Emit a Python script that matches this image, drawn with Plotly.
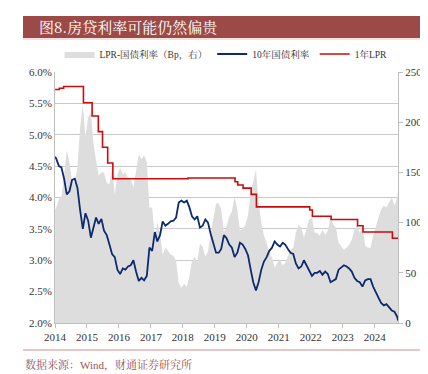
import plotly.graph_objects as go

# ---------------- data ----------------
months = ["2014-01-02"] + [f"{y}-{m:02d}-15" for y in range(2014, 2025) for m in range(1, 13)
                           if not (y == 2024 and m > 9)] + ["2024-09-24"]

cgb10y = [4.65,
          4.62, 4.50, 4.48, 4.30, 4.05, 4.10, 4.28, 4.30, 4.15, 3.80, 3.50, 3.75,
          3.63, 3.36, 3.50, 3.68, 3.58, 3.66, 3.47, 3.40, 3.25, 3.10, 3.05, 2.85,
          2.78, 2.87, 2.85, 2.90, 2.92, 3.00, 2.82, 2.67, 2.72, 2.68, 2.75, 3.20,
          3.15, 3.45, 3.30, 3.40, 3.62, 3.55, 3.58, 3.62, 3.63, 3.68, 3.92, 3.95,
          3.92, 3.95, 3.85, 3.70, 3.65, 3.70, 3.52, 3.55, 3.65, 3.60, 3.42, 3.25,
          3.12, 3.12, 3.18, 3.40, 3.35, 3.25, 3.20, 3.05, 3.12, 3.28, 3.25, 3.18,
          3.08, 2.85, 2.65, 2.52, 2.65, 2.85, 2.98, 3.05, 3.15, 3.20, 3.30, 3.25,
          3.22, 3.28, 3.25, 3.18, 3.12, 3.10, 2.95, 2.87, 2.90, 3.00, 2.92, 2.82,
          2.75, 2.80, 2.80, 2.83, 2.77, 2.82, 2.78, 2.65, 2.67, 2.70, 2.85, 2.88,
          2.92, 2.90, 2.87, 2.82, 2.72, 2.67, 2.65, 2.58, 2.68, 2.70, 2.70, 2.58,
          2.48, 2.40, 2.32, 2.28, 2.30, 2.25, 2.20, 2.18, 2.10,
          2.04]

spread_bp = [113,
             115, 123, 126, 147, 172, 160, 140, 140, 155, 195, 218, 185,
             205, 210, 180, 162, 147, 150, 150, 140, 138, 155, 128, 148,
             155, 148, 150, 145, 143, 135, 152, 168, 163, 167, 160, 115,
             115, 85, 100, 90, 68, 75, 72, 68, 67, 62, 40, 35,
             39, 36, 46, 61, 66, 61, 79, 76, 66, 71, 89, 106,
             119, 119, 113, 91, 96, 106, 111, 126, 113, 92, 95, 97,
             107, 130, 140, 153, 120, 100, 87, 80, 70, 65, 55, 60,
             63, 57, 60, 67, 73, 75, 90, 98, 95, 85, 93, 103,
             105, 90, 90, 87, 93, 88, 92, 105, 98, 95, 80, 77,
             73, 75, 78, 83, 93, 98, 90, 97, 77, 75, 75, 87,
             97, 105, 113, 117, 115, 120, 125, 117, 125,
             131]

lpr_dates = ["2014-01-02", "2014-02-20", "2014-04-10", "2014-11-22", "2015-03-01",
             "2015-05-11", "2015-06-28", "2015-08-26", "2015-10-24", "2018-03-01",
             "2019-08-20", "2019-09-20", "2019-11-20", "2020-02-20", "2020-04-20",
             "2021-12-20", "2022-01-20", "2022-08-22", "2023-06-20", "2023-08-21",
             "2024-07-22", "2024-09-24"]
lpr_1y = [5.72, 5.74, 5.77, 5.51, 5.30, 5.05, 4.80, 4.55, 4.30, 4.31,
          4.25, 4.20, 4.15, 4.05, 3.85, 3.80, 3.70, 3.65, 3.55, 3.45, 3.35, 3.35]

names = ["LPR-国债利率（Bp，右）", "10年国债利率", "1年LPR"]
title_text = "图8.房贷利率可能仍然偏贵"
source_text = "数据来源：Wind，财通证券研究所"

# ---------------- figure ----------------
SERIF = "Liberation Serif, Noto Serif CJK SC, Noto Sans CJK SC, serif"
fig = go.Figure()
fig.add_trace(go.Scatter(x=months, y=spread_bp, name=names[0], mode="lines",
                         line=dict(width=0, color="#dddddd"), fill="tozeroy",
                         fillcolor="#dddddd", yaxis="y"))
fig.add_trace(go.Scatter(x=months, y=cgb10y, name=names[1], mode="lines",
                         line=dict(width=1.8, color="#0b2a6f"), yaxis="y2"))
fig.add_trace(go.Scatter(x=lpr_dates, y=lpr_1y, name=names[2], mode="lines",
                         line=dict(width=1.6, color="#cc0a0a", shape="hv"), yaxis="y2"))

W, H = 428, 374
L, R, T, B = 47, 38, 64, 59
pw, ph = W - L - R, H - T - B
def px(x): return (x - L) / pw
def py(y): return (H - B - y) / ph

fig.update_layout(
    width=W, height=H, margin=dict(l=L, r=R, t=T, b=B),
    paper_bgcolor="white", plot_bgcolor="white",
    font=dict(family=SERIF, size=11, color="#333333"),
    showlegend=True,
    legend=dict(orientation="h", x=px(218), xanchor="center", y=py(46), yanchor="middle",
                font=dict(size=9.5, color="#333333"), bgcolor="rgba(0,0,0,0)",
                itemwidth=30, tracegroupgap=0),
    xaxis=dict(type="date", range=["2014-01-01", "2024-09-24"], dtick="M12",
               tick0="2014-01-01", tickformat="%Y", showgrid=False,
               showline=True, linecolor="#bfbfbf", ticks="outside", ticklen=4,
               tickcolor="#bfbfbf", tickfont=dict(size=11, color="#333333")),
    yaxis=dict(side="right", range=[0, 250], dtick=50, showgrid=False, zeroline=False,
               showline=True, linecolor="#bfbfbf", ticks="outside", ticklen=4,
               tickcolor="#bfbfbf", tickfont=dict(size=11, color="#333333")),
    yaxis2=dict(overlaying="y", side="left", range=[2, 6], dtick=0.5, tickformat=".1f",
                ticksuffix="%", showgrid=True, gridcolor="#c8c8c8", gridwidth=1,
                zeroline=False, showline=True, linecolor="#bfbfbf",
                tickfont=dict(size=11, color="#333333")),
)

# title bar
fig.add_shape(type="rect", xref="paper", yref="paper", x0=px(15), x1=px(418),
              y0=py(30), y1=py(8), fillcolor="#9c4a47", line=dict(width=0), layer="above")
fig.add_shape(type="line", xref="paper", yref="paper", x0=px(15), x1=px(418),
              y0=py(31), y1=py(31), line=dict(color="#e3c4c2", width=1))
fig.add_annotation(xref="paper", yref="paper", x=px(29), y=py(19), xanchor="left",
                   yanchor="middle", text=title_text, showarrow=False,
                   font=dict(size=15, color="white", family="Noto Serif CJK SC, Noto Sans CJK SC"))
# footer
fig.add_shape(type="line", xref="paper", yref="paper", x0=px(15), x1=px(418),
              y0=py(342), y1=py(342), line=dict(color="#c9908d", width=1))
fig.add_annotation(xref="paper", yref="paper", x=px(15), y=py(357), xanchor="left",
                   yanchor="middle", text=source_text, showarrow=False,
                   font=dict(size=11, color="#a0524e", family=SERIF))

fig.write_html("out.html")
